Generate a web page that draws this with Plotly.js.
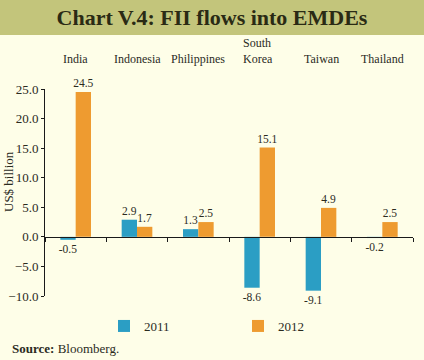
<!DOCTYPE html>
<html>
<head>
<meta charset="utf-8">
<script src="https://cdn.plot.ly/plotly-3.0.1.min.js"></script>
<style>
html,body{margin:0;padding:0;background:#fefee8;}
#chart{width:424px;height:360px;}
</style>
</head>
<body>
<div id="chart"></div>
<script>
var categories = ["India", "Indonesia", "Philippines", "South Korea", "Taiwan", "Thailand"];
var categoryLabels = ["India", "Indonesia", "Philippines", "South<br>Korea", "Taiwan", "Thailand"];
var values2011 = [-0.5, 2.9, 1.3, -8.6, -9.1, -0.2];
var values2012 = [24.5, 1.7, 2.5, 15.1, 4.9, 2.5];
var seriesNames = ["2011", "2012"];
var yTickVals = [-10, -5, 0, 5, 10, 15, 20, 25];

var serif = "Liberation Serif";
var txtColor = "#2b2b1e";

var traces = [
  {
    type: "bar", name: seriesNames[0], x: categories, y: values2011,
    marker: {color: "#2b9ec4"},
    text: values2011.map(function(v){return v.toFixed(1);}),
    textposition: "outside", cliponaxis: false, constraintext: "none",
    textfont: {family: serif, size: 11.5, color: txtColor},
    hoverinfo: "none", legend: "legend"
  },
  {
    type: "bar", name: seriesNames[1], x: categories, y: values2012,
    marker: {color: "#ee9b30"},
    text: values2012.map(function(v){return v.toFixed(1);}),
    textposition: "outside", cliponaxis: false, constraintext: "none",
    textfont: {family: serif, size: 11.5, color: txtColor},
    hoverinfo: "none", legend: "legend2"
  }
];

var annotations = categories.map(function(c, i){
  var twoLine = categoryLabels[i].indexOf("<br>") >= 0;
  return {
    x: c, xref: "x", y: 1.103, yref: "paper", yanchor: "bottom",
    xshift: twoLine ? -2 : 0,
    text: categoryLabels[i], showarrow: false, align: "left",
    font: {family: serif, size: 12, color: txtColor}
  };
});
annotations.push({
  x: (10 - 45) / 368, xref: "paper", y: (296 - 348) / 207, yref: "paper",
  xanchor: "left", yanchor: "middle",
  showarrow: false, text: "<b>Source:</b> Bloomberg.",
  font: {family: serif, size: 13, color: txtColor}
});
annotations.push({
  x: (8 - 45) / 368, xref: "paper", y: (296 - 182) / 207, yref: "paper",
  xanchor: "center", yanchor: "middle", textangle: -90,
  showarrow: false, text: "US$ billion",
  font: {family: serif, size: 13, color: txtColor}
});

var legendCommon = {
  orientation: "h", xref: "container", yref: "container", xanchor: "left", yanchor: "middle",
  font: {family: serif, size: 13, color: txtColor}, bgcolor: "rgba(0,0,0,0)",
  itemwidth: 30
};

var layout = {
  width: 424, height: 360,
  paper_bgcolor: "#fefee8", plot_bgcolor: "#fefee8",
  margin: {l: 45, r: 11, t: 89, b: 64, autoexpand: false},
  showlegend: true,
  barmode: "group", bargap: 0.5, bargroupgap: 0,
  font: {family: serif, color: txtColor},
  title: {
    text: "<b>Chart V.4: FII flows into EMDEs</b>",
    font: {family: serif, size: 22, color: "#2a2a14"},
    x: 0.5, xanchor: "center", y: 0.952, yanchor: "middle", yref: "container"
  },
  xaxis: {
    type: "category",
    anchor: "free", position: 10/35,
    showline: true, linecolor: "#1a1a1a", linewidth: 1,
    ticks: "outside", ticklen: 4, tickcolor: "#1a1a1a",
    tickson: "boundaries",
    showticklabels: false, showgrid: false, zeroline: false,
    fixedrange: true
  },
  yaxis: {
    range: [-10, 25], tickvals: yTickVals, tickformat: ".1f",
    showline: true, linecolor: "#1a1a1a", linewidth: 1,
    ticks: "outside", ticklen: 3, tickcolor: "#1a1a1a",
    showgrid: false, zeroline: false,
    tickfont: {family: serif, size: 13, color: txtColor},
    fixedrange: true
  },
  legend: Object.assign({}, legendCommon, {x: 104 / 424, y: 1 - 326 / 360}),
  legend2: Object.assign({}, legendCommon, {x: 238 / 424, y: 1 - 326 / 360}),
  shapes: [
    {type: "rect", xref: "paper", yref: "paper", x0: -0.2, x1: 1.1, y0: 1.0 + 54/207, y1: 1.5,
     fillcolor: "#c3c57b", line: {width: 0}, layer: "below"}
  ],
  annotations: annotations
};

Plotly.newPlot("chart", traces, layout, {displayModeBar: false, staticPlot: true});
</script>
</body>
</html>
